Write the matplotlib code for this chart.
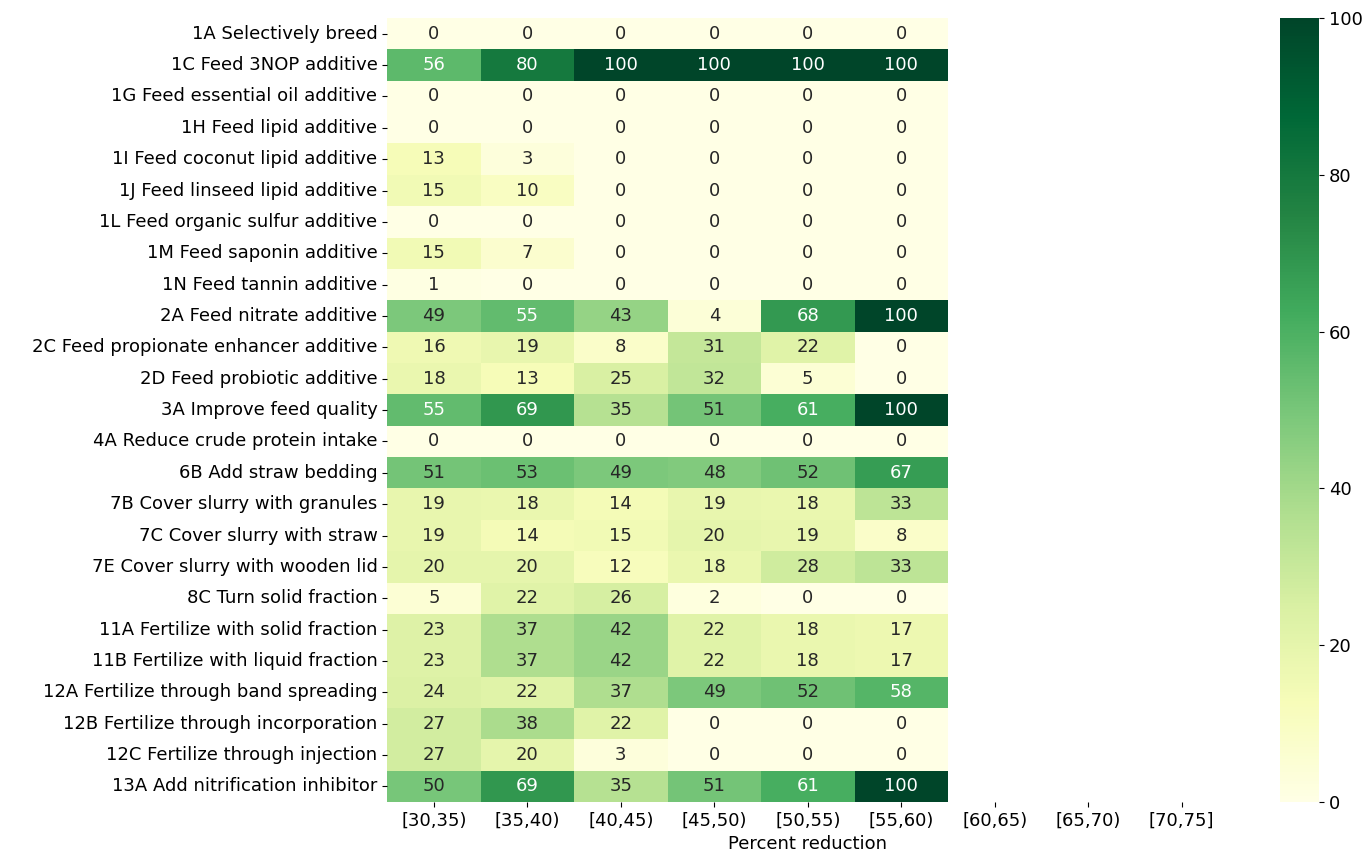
import numpy as np
import pandas as pd
import matplotlib
matplotlib.use('Agg')
import matplotlib.pyplot as plt
import seaborn as sns

measures = ['1A Selectively breed', '1C Feed 3NOP additive', '1G Feed essential oil additive',
            '1H Feed lipid additive', '1I Feed coconut lipid additive', '1J Feed linseed lipid additive',
            '1L Feed organic sulfur additive', '1M Feed saponin additive', '1N Feed tannin additive',
            '2A Feed nitrate additive', '2C Feed propionate enhancer additive', '2D Feed probiotic additive',
            '3A Improve feed quality', '4A Reduce crude protein intake', '6B Add straw bedding',
            '7B Cover slurry with granules', '7C Cover slurry with straw', '7E Cover slurry with wooden lid',
            '8C Turn solid fraction', '11A Fertilize with solid fraction', '11B Fertilize with liquid fraction',
            '12A Fertilize through band spreading', '12B Fertilize through incorporation',
            '12C Fertilize through injection', '13A Add nitrification inhibitor']

bins = ['[30,35)', '[35,40)', '[40,45)', '[45,50)', '[50,55)', '[55,60)', '[60,65)', '[65,70)', '[70,75]']

# one list per reduction bin (last three bins have no data)
b30 = [0, 56, 0, 0, 13, 15, 0, 15, 1, 49, 16, 18, 55, 0, 51, 19, 19, 20, 5, 23, 23, 24, 27, 27, 50]
b35 = [0, 80, 0, 0, 3, 10, 0, 7, 0, 55, 19, 13, 69, 0, 53, 18, 14, 20, 22, 37, 37, 22, 38, 20, 69]
b40 = [0, 100, 0, 0, 0, 0, 0, 0, 0, 43, 8, 25, 35, 0, 49, 14, 15, 12, 26, 42, 42, 37, 22, 3, 35]
b45 = [0, 100, 0, 0, 0, 0, 0, 0, 0, 4, 31, 32, 51, 0, 48, 19, 20, 18, 2, 22, 22, 49, 0, 0, 51]
b50 = [0, 100, 0, 0, 0, 0, 0, 0, 0, 68, 22, 5, 61, 0, 52, 18, 19, 28, 0, 18, 18, 52, 0, 0, 61]
b55 = [0, 100, 0, 0, 0, 0, 0, 0, 0, 100, 0, 0, 100, 0, 67, 33, 8, 33, 0, 17, 17, 58, 0, 0, 100]
empty = [np.nan] * len(measures)

df = pd.DataFrame(dict(zip(bins, [b30, b35, b40, b45, b50, b55, empty, empty, empty])), index=measures)

fig = plt.figure(figsize=(13.68, 8.57), dpi=100)
ax = fig.add_axes([0.283, 0.064, 0.615, 0.915])
cax = fig.add_axes([0.9357, 0.064, 0.0285, 0.915])

sns.heatmap(df, ax=ax, cbar_ax=cax, cmap='YlGn', vmin=0, vmax=100,
            annot=True, fmt='.0f', annot_kws={'size': 13})

ax.set_xlabel('Percent reduction', fontsize=13)
ax.tick_params(axis='both', labelsize=13)
plt.setp(ax.get_xticklabels(), rotation=0)
plt.setp(ax.get_yticklabels(), rotation=0)
cax.tick_params(labelsize=13)

fig.savefig('out.png')
